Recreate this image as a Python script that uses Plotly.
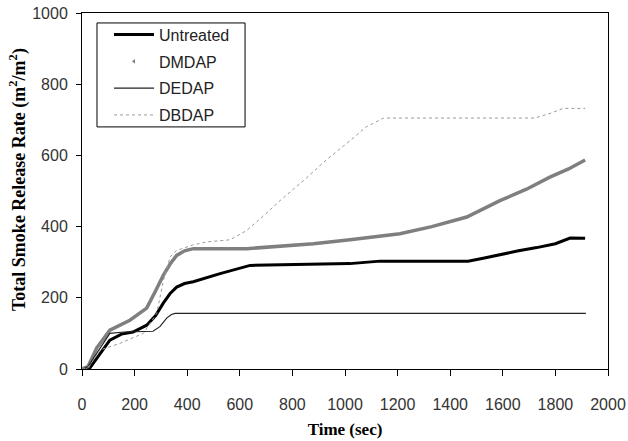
import plotly.graph_objects as go

# Untreated
t_untreated = [0, 20, 30, 60, 106, 150, 194, 246, 280, 309, 335, 360, 390, 423, 525, 639, 753, 900, 1019, 1133, 1300, 1468, 1530, 1589, 1660, 1729, 1800, 1856, 1913]
v_untreated = [0, 0, 3, 35, 81, 98, 104, 123, 150, 185, 212, 230, 240, 245, 268, 291, 293, 295, 296, 303, 303, 303, 312, 322, 332, 341, 352, 368, 367]

# DMDAP
t_dmdap = [0, 10, 23, 56, 106, 182, 246, 280, 309, 335, 360, 390, 423, 626, 880, 1019, 1133, 1209, 1330, 1463, 1589, 1690, 1779, 1850, 1913]
v_dmdap = [0, 2, 7, 59, 109, 137, 171, 220, 263, 295, 319, 332, 338, 338, 352, 363, 372, 380, 400, 427, 473, 505, 539, 562, 587]

# DEDAP
t_dedap = [0, 10, 23, 56, 106, 160, 220, 270, 296, 322, 340, 354, 600, 1000, 1400, 1916]
v_dedap = [0, 2, 7, 44, 100, 104, 104, 106, 119, 143, 153, 156, 156, 156, 156, 156]

# DBDAP
t_dbdap = [0, 15, 30, 68, 144, 233, 284, 310, 335, 360, 420, 474, 563, 626, 690, 753, 842, 930, 1019, 1080, 1147, 1300, 1500, 1722, 1780, 1830, 1913]
v_dbdap = [0, 2, 10, 53, 72, 100, 156, 250, 315, 333, 348, 357, 363, 389, 430, 473, 529, 588, 641, 680, 705, 705, 705, 705, 718, 732, 732]

x_ticks = [0, 200, 400, 600, 800, 1000, 1200, 1400, 1600, 1800, 2000]
y_ticks = [0, 200, 400, 600, 800, 1000]

title_font = dict(family="Liberation Serif, Times New Roman, serif", size=17, color="black")

fig = go.Figure()
fig.add_trace(go.Scatter(x=t_untreated, y=v_untreated, mode="lines", name="Untreated",
                         legendgroup="a", line=dict(color="black", width=3)))
fig.add_trace(go.Scatter(x=t_dmdap, y=v_dmdap, mode="lines", name="DMDAP", showlegend=False,
                         legendgroup="b", line=dict(color="#7f7f7f", width=3.5)))
fig.add_trace(go.Scatter(x=[None], y=[None], mode="markers", name="DMDAP", legendgroup="b",
                         marker=dict(symbol="triangle-left", size=4, color="#7f7f7f")))
fig.add_trace(go.Scatter(x=t_dedap, y=v_dedap, mode="lines", name="DEDAP",
                         legendgroup="c", line=dict(color="#222222", width=1.2)))
fig.add_trace(go.Scatter(x=t_dbdap, y=v_dbdap, mode="lines", name="DBDAP",
                         legendgroup="d", line=dict(color="#999999", width=1, dash="dot")))

# legend frame
fig.add_shape(type="rect", xref="paper", yref="paper",
              x0=0.0285, x1=0.31, y0=0.680, y1=0.972,
              line=dict(color="black", width=1), fillcolor="rgba(0,0,0,0)", layer="above")

# y-axis title
fig.add_annotation(text="<b>Total Smoke Release Rate (m<sup>2</sup>/m<sup>2</sup>)</b>",
                   xref="paper", yref="paper", x=-0.1217, y=0.5337,
                   xanchor="center", yanchor="middle", textangle=-90, showarrow=False,
                   font=dict(family="Liberation Serif, Times New Roman, serif", size=18, color="black"))

fig.update_layout(
    width=628, height=441,
    margin=dict(l=82, r=20, t=13, b=72),
    paper_bgcolor="white", plot_bgcolor="white",
    font=dict(family="Liberation Sans, Arial, sans-serif", size=16, color="#333333"),
    showlegend=True,
    legend=dict(x=0.0513, y=0.987, xanchor="left", yanchor="top",
                bgcolor="rgba(0,0,0,0)", borderwidth=0,
                font=dict(size=16, color="#222222"), tracegroupgap=3,
                traceorder="grouped", itemwidth=40),
    xaxis=dict(range=[0, 2000], tickvals=x_ticks, ticks="outside", ticklen=6,
               tickcolor="black", showline=True, linecolor="black", linewidth=1,
               mirror=True, showgrid=False, zeroline=False, automargin=False,
               ticklabeloverflow="allow", ticklabelstandoff=15,
               title=dict(text="<b>Time (sec)</b>", font=title_font, standoff=10)),
    yaxis=dict(range=[0, 1000], tickvals=y_ticks, ticks="outside", ticklen=5,
               tickcolor="black", showline=True, linecolor="black", linewidth=1,
               mirror=True, showgrid=False, zeroline=False, automargin=False,
               ticklabeloverflow="allow", ticklabelstandoff=5),
)

fig.write_html("out.html", config={"displayModeBar": False},
               post_script="document.body.style.margin='0';")
